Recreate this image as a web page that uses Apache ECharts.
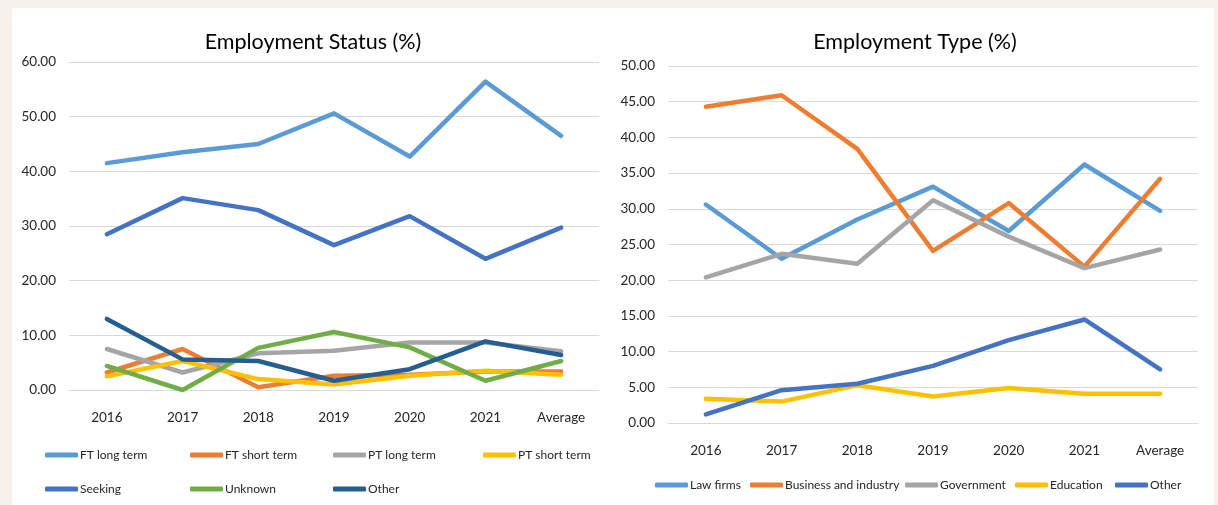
<!DOCTYPE html>
<html>
<head>
<meta charset="utf-8">
<script src="https://cdn.jsdelivr.net/npm/echarts@6/dist/echarts.min.js"></script>
<style>
  body { margin: 0; background: #f6f1ed; }
  #panel {
    position: absolute;
    left: 12px;
    top: 8px;
    width: 1202px;
    height: 497px;
    background: #ffffff;
  }
  #chart { width: 1202px; height: 497px; }
</style>
</head>
<body>
<div id="panel"><div id="chart"></div></div>
<script>
// categories
const years = ['2016', '2017', '2018', '2019', '2020', '2021', 'Average'];

// Employment Status (%)
const ftLong = [41.5, 43.5, 45.0, 50.6, 42.7, 56.4, 46.5];
const ftShort = [3.2, 7.5, 0.5, 2.6, 2.8, 3.4, 3.4];
const ptLong = [7.5, 3.2, 6.7, 7.2, 8.7, 8.7, 7.1];
const ptShort = [2.5, 5.3, 2.0, 1.0, 2.6, 3.5, 2.8];
const seeking = [28.5, 35.1, 32.9, 26.5, 31.8, 24.0, 29.7];
const unknown = [4.4, 0.0, 7.7, 10.6, 7.8, 1.7, 5.3];
const otherStatus = [13.0, 5.6, 5.3, 1.7, 3.8, 8.9, 6.4];

// Employment Type (%)
const lawFirms = [30.6, 23.0, 28.5, 33.1, 26.9, 36.2, 29.7];
const business = [44.3, 45.9, 38.4, 24.1, 30.8, 21.9, 34.2];
const government = [20.4, 23.7, 22.3, 31.2, 26.1, 21.7, 24.3];
const education = [3.4, 3.0, 5.3, 3.7, 4.9, 4.1, 4.1];
const otherType = [1.2, 4.6, 5.5, 8.0, 11.6, 14.5, 7.5];

const FONT = "Lato, 'Liberation Sans', sans-serif";
const TEXT = '#262626';
const GRIDLINE = '#d9d9d9';

const statusSeries = [
  { name: 'FT long term', data: ftLong, color: '#5b9bd5' },
  { name: 'FT short term', data: ftShort, color: '#ed7d31' },
  { name: 'PT long term', data: ptLong, color: '#a5a5a5' },
  { name: 'PT short term', data: ptShort, color: '#ffc000' },
  { name: 'Seeking', data: seeking, color: '#4472c4' },
  { name: 'Unknown', data: unknown, color: '#70ad47' },
  { name: 'Other', data: otherStatus, color: '#255e91' }
];
const typeSeries = [
  { name: 'Law firms', data: lawFirms, color: '#5b9bd5' },
  { name: 'Business and industry', data: business, color: '#ed7d31' },
  { name: 'Government', data: government, color: '#a5a5a5' },
  { name: 'Education', data: education, color: '#ffc000' },
  { name: 'Other', data: otherType, color: '#4472c4' }
];

// legend slots (left, top) – one legend per item so columns line up like Excel
const statusLegendPos = [[33, 439], [178, 439], [321, 439], [471, 439], [33, 473], [178, 473], [321, 473]];
const typeLegendPos = [[643, 469], [738, 469], [893, 469], [1003, 469], [1103, 469]];

var chartDom = document.getElementById('chart');
var myChart = echarts.init(chartDom);

const makeLine = (s, idx) => ({
  name: s.name,
  type: 'line',
  xAxisIndex: idx,
  yAxisIndex: idx,
  data: s.data,
  symbol: 'none',
  color: s.color,
  lineStyle: { width: 4.5, color: s.color, cap: 'round', join: 'round' },
  itemStyle: { color: s.color },
  emphasis: { disabled: true },
  animation: false
});

const makeLegend = (s, pos) => ({
  left: pos[0],
  top: pos[1],
  padding: 0,
  icon: 'roundRect',
  itemWidth: 33,
  itemHeight: 5,
  selectedMode: false,
  data: [{ name: s.name, itemStyle: { color: s.color } }],
  textStyle: { fontFamily: FONT, fontSize: 12, color: TEXT, lineHeight: 16, padding: [0, 0, 0, -3] }
});

const xAxisBase = (idx) => ({
  type: 'category',
  gridIndex: idx,
  data: years,
  boundaryGap: true,
  axisLine: { lineStyle: { color: GRIDLINE } },
  axisTick: { show: false },
  axisLabel: { fontFamily: FONT, fontSize: 13.5, color: TEXT, margin: 21, interval: 0 }
});

const yAxisBase = (idx, max, interval) => ({
  type: 'value',
  gridIndex: idx,
  min: 0,
  max: max,
  interval: interval,
  axisLine: { show: false },
  axisTick: { show: false },
  splitLine: { lineStyle: { color: GRIDLINE, width: 1 } },
  axisLabel: {
    fontFamily: FONT, fontSize: 13.5, color: TEXT, margin: 13,
    formatter: (v) => v.toFixed(2)
  }
});

var option = {
  animation: false,
  title: [
    { text: 'Employment Status (%)', left: 296, top: 18, textAlign: 'center',
      textStyle: { fontFamily: FONT, fontSize: 21.5, fontWeight: 'normal', color: '#000' } },
    { text: 'Employment Type (%)', left: 898, top: 18, textAlign: 'center',
      textStyle: { fontFamily: FONT, fontSize: 21.5, fontWeight: 'normal', color: '#000' } }
  ],
  grid: [
    { left: 57, top: 54, width: 530, height: 328 },
    { left: 656, top: 58, width: 530, height: 357 }
  ],
  xAxis: [xAxisBase(0), xAxisBase(1)],
  yAxis: [yAxisBase(0, 60, 10), yAxisBase(1, 50, 5)],
  legend: statusSeries.map((s, i) => makeLegend(s, statusLegendPos[i]))
    .concat(typeSeries.map((s, i) => makeLegend(s, typeLegendPos[i]))),
  series: statusSeries.map((s) => makeLine(s, 0))
    .concat(typeSeries.map((s) => makeLine(s, 1)))
};

option && myChart.setOption(option);
</script>
</body>
</html>
